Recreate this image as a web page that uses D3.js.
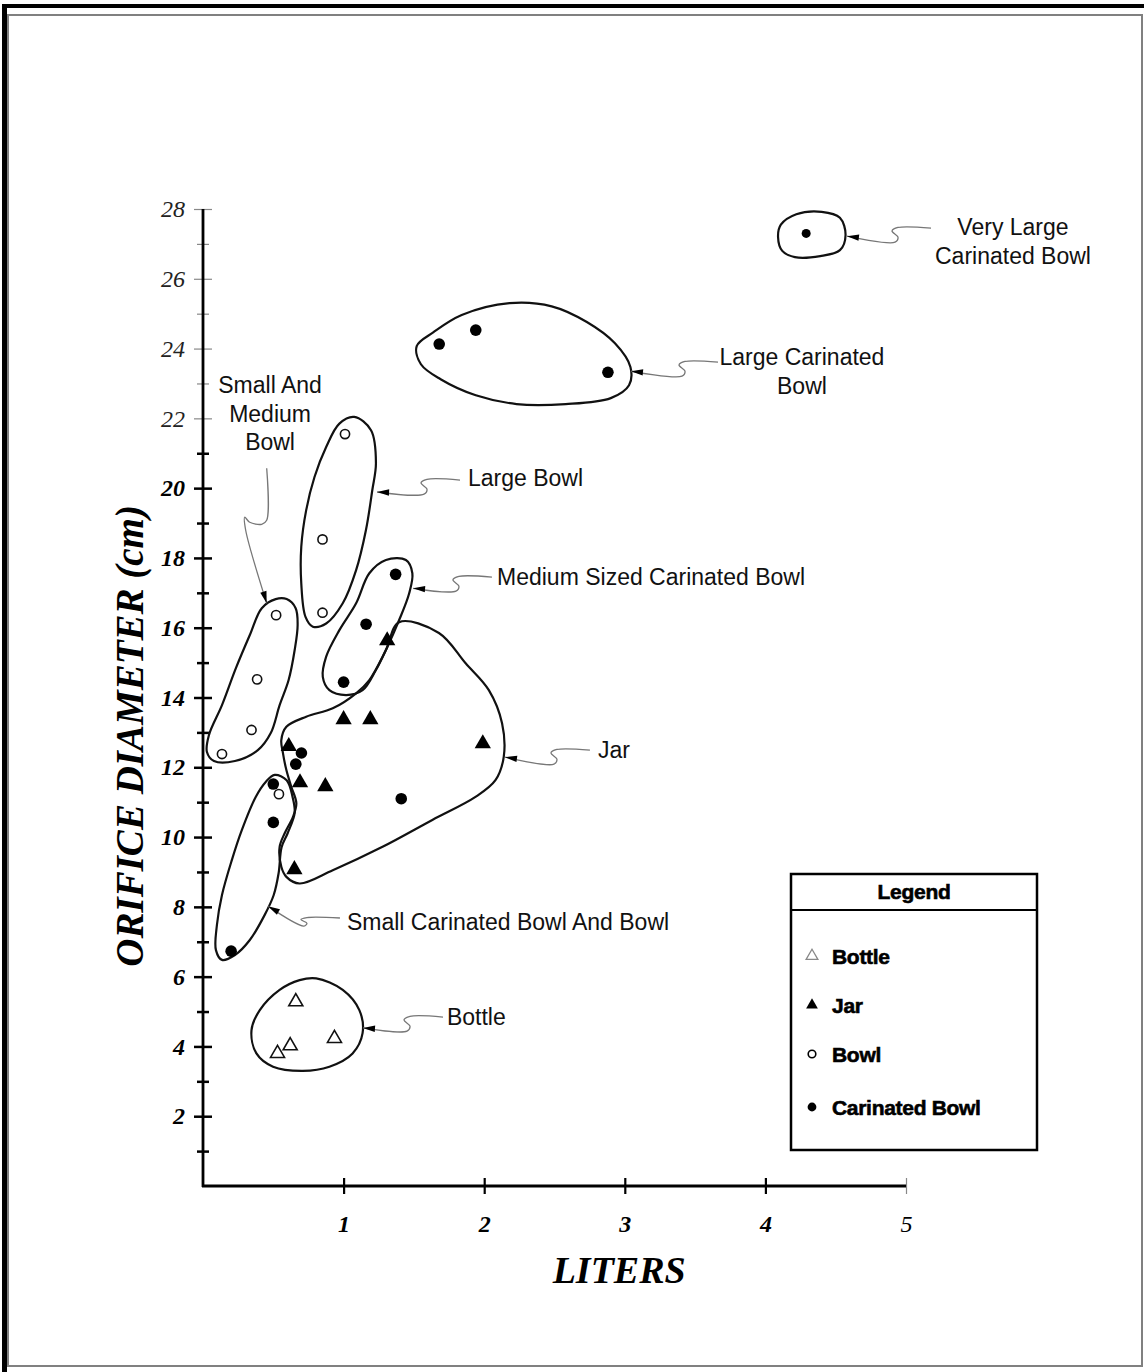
<!DOCTYPE html>
<html lang="en">
<head>
<meta charset="UTF-8">
<title>Orifice diameter by volume</title>
<script src="https://d3js.org/d3.v7.min.js"></script>
<style>
  body { margin: 0; background: #fff; }
  .lbl { font-family: "Liberation Sans", Arial, sans-serif; font-size: 23px; fill: #111; }
  .leg { font-family: "Liberation Sans", Arial, sans-serif; font-size: 21px; font-weight: bold; fill: #000; stroke: #000; stroke-width: 0.6px; letter-spacing: -0.3px; }
</style>
</head>
<body>
<div id="chart"></div>
<script>
// ---- data (liters, orifice diameter cm) ----
var xTicks = [1, 2, 3, 4, 5];
var yTicks = [2, 4, 6, 8, 10, 12, 14, 16, 18, 20, 22, 24, 26, 28];
var yMinor = [1, 3, 5, 7, 9, 11, 13, 15, 17, 19, 21, 23, 25, 27];

var bottleX = [0.66, 0.935, 0.62, 0.53];
var bottleY = [5.28, 4.23, 4.02, 3.80];

var jarX = [1.31, 1.00, 1.19, 1.99, 0.61, 0.69, 0.87, 0.65];
var jarY = [15.63, 13.37, 13.37, 12.68, 12.60, 11.56, 11.45, 9.07];

var bowlX = [1.01, 0.85, 0.85, 0.52, 0.385, 0.345, 0.135, 0.54];
var bowlY = [21.55, 18.53, 16.43, 16.36, 14.52, 13.07, 12.38, 11.23];

var carX = [4.29, 1.68, 1.94, 2.88, 1.37, 1.16, 1.00, 0.70, 0.66, 0.50, 1.41, 0.50, 0.20];
var carY = [27.30, 24.13, 24.53, 23.32, 17.53, 16.10, 14.44, 12.41, 12.09, 11.52, 11.10, 10.42, 6.73];

// group outlines, in data units
var veryLargeHull = [[4.11,27.55],[4.22,27.85],[4.40,27.92],[4.53,27.75],[4.57,27.25],[4.53,26.82],[4.39,26.65],[4.21,26.62],[4.12,26.80],[4.09,27.20]];
var largeCarHull = [[1.52,24.07],[1.64,24.47],[1.84,24.96],[2.18,25.30],[2.48,25.21],[2.73,24.76],[2.93,24.15],[3.04,23.47],[3.03,22.95],[2.90,22.58],[2.58,22.41],[2.23,22.41],[1.94,22.66],[1.69,23.12],[1.55,23.55]];
var largeBowlHull = [[1.076,22.04],[1.195,21.66],[1.23,20.72],[1.204,19.94],[1.159,18.80],[1.089,17.65],[0.994,16.70],[0.876,16.12],[0.781,16.03],[0.729,16.31],[0.699,17.27],[0.699,18.32],[0.734,19.37],[0.793,20.32],[0.876,21.18],[0.97,21.85]];
var smallMedHull = [[0.517,16.82],[0.595,16.82],[0.659,16.56],[0.673,16.07],[0.652,15.36],[0.609,14.50],[0.545,13.78],[0.482,12.98],[0.39,12.49],[0.227,12.18],[0.078,12.18],[0.028,12.44],[0.042,12.92],[0.135,13.78],[0.234,14.84],[0.333,15.79],[0.418,16.56]];
var medCarHull = [[1.301,17.94],[1.443,17.94],[1.489,17.56],[1.466,16.98],[1.395,16.22],[1.301,15.36],[1.23,14.79],[1.135,14.21],[1.018,14.07],[0.899,14.21],[0.852,14.59],[0.876,15.17],[0.97,15.93],[1.089,16.70],[1.183,17.56]];
var jarHull = [[1.395,16.16],[1.678,15.85],[1.868,14.98],[2.033,14.21],[2.127,13.26],[2.139,12.30],[2.08,11.63],[1.938,11.15],[1.631,10.49],[1.277,9.72],[0.923,9.05],[0.687,8.67],[0.593,8.86],[0.557,9.15],[0.545,9.72],[0.581,10.11],[0.64,10.58],[0.664,10.97],[0.628,11.44],[0.593,11.92],[0.569,12.40],[0.557,12.78],[0.593,13.16],[0.734,13.45],[0.923,13.69],[1.089,14.12],[1.183,14.50],[1.301,15.36]];
var smallCarHull = [[0.51,11.78],[0.595,11.63],[0.637,11.15],[0.652,10.69],[0.602,10.11],[0.559,9.71],[0.538,8.97],[0.503,8.34],[0.439,7.77],[0.333,7.05],[0.227,6.62],[0.135,6.48],[0.092,6.76],[0.099,7.48],[0.135,8.34],[0.205,9.34],[0.276,10.20],[0.375,11.15],[0.446,11.58]];
var bottleHull = [[0.805,5.95],[0.994,5.62],[1.112,5.04],[1.135,4.38],[1.064,3.80],[0.899,3.42],[0.71,3.30],[0.498,3.42],[0.38,3.80],[0.345,4.47],[0.404,5.04],[0.545,5.62],[0.687,5.90]];
var hulls = [veryLargeHull, largeCarHull, largeBowlHull, smallMedHull, medCarHull, jarHull, smallCarHull, bottleHull];

// group labels: text lines, text anchor point, arrow tip, end of leader line
var notes = [
  { lines: ["Very Large", "Carinated Bowl"], tx: 5.761, ty: 27.25, anchor: "middle", tip: [4.58, 27.22], end: [5.178, 27.45] },
  { lines: ["Large Carinated", "Bowl"], tx: 4.26, ty: 23.52, anchor: "middle", tip: [3.044, 23.35], end: [3.663, 23.61] },
  { lines: ["Small And", "Medium", "Bowl"], tx: 0.477, ty: 22.72, anchor: "middle", tip: [0.453, 16.70], end: [0.453, 20.57], vertical: true },
  { lines: ["Large Bowl"], tx: 1.885, ty: 20.06, anchor: "start", tip: [1.238, 19.89], end: [1.828, 20.23] },
  { lines: ["Medium Sized Carinated Bowl"], tx: 2.091, ty: 17.22, anchor: "start", tip: [1.494, 17.13], end: [2.055, 17.45] },
  { lines: ["Jar"], tx: 2.809, ty: 12.26, anchor: "start", tip: [2.148, 12.29], end: [2.752, 12.49] },
  { lines: ["Small Carinated Bowl And Bowl"], tx: 1.024, ty: 7.34, anchor: "start", tip: [0.462, 8.02], end: [0.974, 7.68], drop: 8 },
  { lines: ["Bottle"], tx: 1.735, ty: 4.61, anchor: "start", tip: [1.138, 4.53], end: [1.707, 4.84] }
];

var legendNames = ["Bottle", "Jar", "Bowl", "Carinated Bowl"];

// ---- svg ----
var W = 1144, H = 1372;
var svg = d3.select("#chart").append("svg")
  .attr("width", W).attr("height", H);

// page frame
svg.append("rect").attr("x", 0).attr("y", 0).attr("width", W).attr("height", H).attr("fill", "#fff");
svg.append("rect").attr("x", 2).attr("y", 4).attr("width", W - 2).attr("height", 4).attr("fill", "#000");
svg.append("rect").attr("x", 2).attr("y", 4).attr("width", 5).attr("height", H - 4).attr("fill", "#000");
svg.append("rect").attr("x", 8).attr("y", 15).attr("width", 1134).attr("height", 1351)
  .attr("fill", "none").attr("stroke", "#808080").attr("stroke-width", 2);

var x = d3.scaleLinear().domain([0, 5]).range([203, 906]);
var y = d3.scaleLinear().domain([0, 28]).range([1186, 209]);

// Y axis
var yAx = svg.append("g")
  .attr("transform", "translate(" + x(0) + ",0)")
  .call(d3.axisLeft(y).tickValues(yTicks).tickSize(9).tickPadding(9));
yAx.select(".domain").remove();
yAx.selectAll(".tick line")
  .attr("x1", -9).attr("x2", 9)
  .attr("stroke", function(d) { return d > 21 ? "#888" : "#000"; })
  .attr("stroke-width", function(d) { return d > 21 ? 1.2 : 2.5; });
yAx.selectAll(".tick text")
  .style("font-family", "'Liberation Serif', 'Times New Roman', serif")
  .style("font-style", "italic")
  .style("font-size", "24px")
  .style("font-weight", function(d) { return d > 21 ? "normal" : "bold"; })
  .attr("fill", function(d) { return d > 21 ? "#222" : "#000"; });

var yMin = svg.append("g")
  .attr("transform", "translate(" + x(0) + ",0)")
  .call(d3.axisLeft(y).tickValues(yMinor).tickSize(6).tickFormat(""));
yMin.select(".domain").remove();
yMin.selectAll(".tick line")
  .attr("x1", -6).attr("x2", 6)
  .attr("stroke", function(d) { return d > 21.5 ? "#888" : "#000"; })
  .attr("stroke-width", function(d) { return d > 21.5 ? 1.2 : 2.5; });

svg.append("line")
  .attr("x1", x(0)).attr("x2", x(0))
  .attr("y1", y(28)).attr("y2", y(0) + 1)
  .attr("stroke", "#000").attr("stroke-width", 2.8);

// X axis
var xAx = svg.append("g")
  .attr("transform", "translate(0," + y(0) + ")")
  .call(d3.axisBottom(x).tickValues(xTicks).tickFormat(d3.format("d")).tickSize(8).tickPadding(21));
xAx.select(".domain").remove();
xAx.selectAll(".tick line")
  .attr("y1", -8).attr("y2", 8)
  .attr("stroke", function(d) { return d == 5 ? "#888" : "#000"; })
  .attr("stroke-width", function(d) { return d == 5 ? 1.2 : 2.2; });
xAx.selectAll(".tick text")
  .style("font-family", "'Liberation Serif', 'Times New Roman', serif")
  .style("font-style", "italic")
  .style("font-size", "24px")
  .style("font-weight", function(d) { return d == 5 ? "normal" : "bold"; })
  .attr("fill", "#000");

svg.append("line")
  .attr("x1", x(0) - 1).attr("x2", x(5))
  .attr("y1", y(0)).attr("y2", y(0))
  .attr("stroke", "#000").attr("stroke-width", 2.8);

// axis titles
svg.append("text")
  .attr("transform", "translate(143," + y(12.9) + ") rotate(-90)")
  .attr("text-anchor", "middle")
  .style("font-family", "'Liberation Serif', 'Times New Roman', serif")
  .style("font-style", "italic").style("font-weight", "bold").style("font-size", "39px")
  .text("ORIFICE DIAMETER (cm)");

svg.append("text")
  .attr("x", x(2.96)).attr("y", 1283)
  .attr("text-anchor", "middle")
  .style("font-family", "'Liberation Serif', 'Times New Roman', serif")
  .style("font-style", "italic").style("font-weight", "bold").style("font-size", "38px")
  .text("LITERS");

// group outlines
var hullLine = d3.line()
  .x(function(d) { return x(d[0]); })
  .y(function(d) { return y(d[1]); })
  .curve(d3.curveCatmullRomClosed.alpha(0.5));

svg.append("g").selectAll("path")
  .data(hulls).enter().append("path")
  .attr("d", hullLine)
  .attr("fill", "none").attr("stroke", "#111").attr("stroke-width", 2.2);

// leader lines with arrow heads
var wiggle = d3.line().curve(d3.curveCatmullRom.alpha(0.5));
notes.forEach(function(n) {
  var T = [x(n.tip[0]), y(n.tip[1])], E = [x(n.end[0]), y(n.end[1])];
  var pts;
  if (n.vertical) {
    pts = [E, [E[0], E[1] + 52], [E[0] - 5, E[1] + 56], [E[0] - 17, E[1] + 54], [E[0] - 22, E[1] + 49],
           [E[0] - 21, E[1] + 62], T];
  } else {
    var dr = n.drop || 14;
    var B = [E[0] - 36, E[1] + dr];
    pts = [T, B, [B[0] + 3, B[1] - dr * 0.35], [B[0] - 3, B[1] - dr * 0.8], [B[0] + 3, B[1] - dr * 1.05], E];
  }
  svg.append("path").attr("d", wiggle(pts))
    .attr("fill", "none").attr("stroke", "#777").attr("stroke-width", 1.3);
  // arrow head pointing at the outline
  var from = n.vertical ? pts[pts.length - 2] : pts[1];
  var ang = Math.atan2(T[1] - from[1], T[0] - from[0]) * 180 / Math.PI;
  svg.append("path")
    .attr("d", "M0,0 L-12,-3.2 L-12,3.2 Z")
    .attr("transform", "translate(" + T[0] + "," + T[1] + ") rotate(" + ang + ")")
    .attr("fill", "#000");
  var t = svg.append("text").attr("class", "lbl")
    .attr("text-anchor", n.anchor)
    .attr("x", x(n.tx)).attr("y", y(n.ty));
  n.lines.forEach(function(s, i) {
    t.append("tspan").attr("x", x(n.tx)).attr("dy", i == 0 ? 0 : 28.5).text(s);
  });
});

// points
svg.append("g").selectAll("path")
  .data(d3.range(bottleX.length)).enter().append("path")
  .attr("d", d3.symbol().type(d3.symbolTriangle).size(85)())
  .attr("transform", function(i) { return "translate(" + x(bottleX[i]) + "," + y(bottleY[i]) + ")"; })
  .attr("fill", "#fff").attr("stroke", "#111").attr("stroke-width", 1.6);

svg.append("g").selectAll("path")
  .data(d3.range(jarX.length)).enter().append("path")
  .attr("d", d3.symbol().type(d3.symbolTriangle).size(115)())
  .attr("transform", function(i) { return "translate(" + x(jarX[i]) + "," + y(jarY[i]) + ")"; })
  .attr("fill", "#000");

svg.append("g").selectAll("circle")
  .data(d3.range(bowlX.length)).enter().append("circle")
  .attr("cx", function(i) { return x(bowlX[i]); })
  .attr("cy", function(i) { return y(bowlY[i]); })
  .attr("r", 4.6)
  .attr("fill", "#fff").attr("stroke", "#111").attr("stroke-width", 1.6);

svg.append("g").selectAll("circle")
  .data(d3.range(carX.length)).enter().append("circle")
  .attr("cx", function(i) { return x(carX[i]); })
  .attr("cy", function(i) { return y(carY[i]); })
  .attr("r", function(i) { return i == 0 ? 4.5 : 5.8; })
  .attr("fill", "#000");

// legend
var lg = svg.append("g");
lg.append("rect").attr("x", 791).attr("y", 874).attr("width", 246).attr("height", 276)
  .attr("fill", "#fff").attr("stroke", "#000").attr("stroke-width", 2.5);
lg.append("line").attr("x1", 791).attr("x2", 1037).attr("y1", 910).attr("y2", 910)
  .attr("stroke", "#000").attr("stroke-width", 2);
lg.append("text").attr("class", "leg").attr("x", 914).attr("y", 899)
  .attr("text-anchor", "middle").text("Legend");

var legY = [956, 1005, 1054, 1107];
legendNames.forEach(function(name, i) {
  var g = lg.append("g").attr("transform", "translate(812," + legY[i] + ")");
  if (i == 0) {
    g.append("path").attr("d", d3.symbol().type(d3.symbolTriangle).size(60)())
      .attr("fill", "#fff").attr("stroke", "#888").attr("stroke-width", 1.3);
  } else if (i == 1) {
    g.append("path").attr("d", d3.symbol().type(d3.symbolTriangle).size(60)()).attr("fill", "#000");
  } else if (i == 2) {
    g.append("circle").attr("r", 3.8).attr("fill", "#fff").attr("stroke", "#000").attr("stroke-width", 1.6);
  } else {
    g.append("circle").attr("r", 4.4).attr("fill", "#000");
  }
  lg.append("text").attr("class", "leg").attr("x", 832).attr("y", legY[i] + 8).text(name);
});
</script>
</body>
</html>
